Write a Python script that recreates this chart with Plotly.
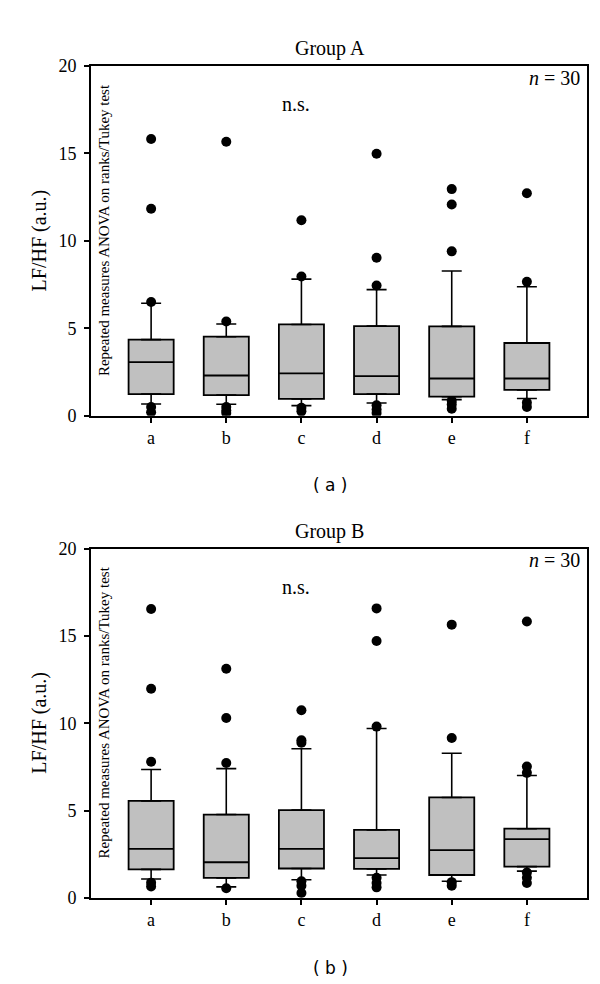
import plotly.graph_objects as go

# ---------------- data ----------------
categories = ["a", "b", "c", "d", "e", "f"]

# Group A
q1_A = [1.24, 1.18, 0.96, 1.24, 1.09, 1.48]
median_A = [3.07, 2.30, 2.42, 2.27, 2.13, 2.13]
q3_A = [4.35, 4.52, 5.22, 5.13, 5.11, 4.16]
whisker_low_A = [0.67, 0.66, 0.58, 0.73, 0.92, 0.99]
whisker_high_A = [6.43, 5.25, 7.81, 7.21, 8.28, 7.38]
outliers_A = [
    [15.83, 11.84, 6.50, 0.50, 0.20],
    [15.67, 5.39, 0.50, 0.30, 0.15],
    [11.18, 7.96, 0.45, 0.25],
    [14.98, 9.04, 7.45, 0.60, 0.35, 0.15],
    [12.96, 12.08, 9.40, 0.85, 0.65, 0.40],
    [12.72, 7.66, 0.75, 0.50],
]

# Group B
q1_B = [1.63, 1.14, 1.68, 1.66, 1.31, 1.79]
median_B = [2.80, 2.04, 2.80, 2.28, 2.73, 3.36]
q3_B = [5.55, 4.77, 5.03, 3.89, 5.75, 3.96]
whisker_low_B = [1.08, 0.63, 1.04, 1.31, 0.95, 1.53]
whisker_high_B = [7.35, 7.40, 8.54, 9.70, 8.28, 7.01]
outliers_B = [
    [16.55, 11.98, 7.80, 0.87, 0.65],
    [13.12, 10.30, 7.72, 0.55],
    [10.75, 9.03, 8.88, 0.95, 0.70, 0.28],
    [16.58, 14.71, 9.81, 1.15, 0.85, 0.60],
    [15.65, 9.16, 0.90, 0.70],
    [15.83, 7.52, 7.16, 1.45, 1.15, 0.85],
]

y_ticks = [0, 5, 10, 15, 20]
group_titles = ["Group A", "Group B"]
panel_labels = ["( a )", "( b )"]
n_label = "<i>n</i> = 30"
sig_label = "n.s."
test_label = "Repeated measures ANOVA on ranks/Tukey test"
y_title = "LF/HF (a.u.)"

# ---------------- figure ----------------
W, H = 600, 984
SERIF = "Liberation Serif"
BOX_FILL = "#c0c0c0"
BOX_LW = 1.8
WHISK_LW = 1.6
AX_LW = 1.6


def px_x(p):
    return p / W


def px_y(p):
    return (H - p) / H


fig = go.Figure()

groups = [
    (q1_A, median_A, q3_A, whisker_low_A, whisker_high_A, outliers_A, "x", "y"),
    (q1_B, median_B, q3_B, whisker_low_B, whisker_high_B, outliers_B, "x2", "y2"),
]

for q1, med, q3, wlo, whi, outs, xa, ya in groups:
    fig.add_trace(go.Box(
        x=categories, q1=q1, median=med, q3=q3,
        lowerfence=q1, upperfence=q3,
        width=0.6, fillcolor=BOX_FILL,
        line=dict(color="black", width=BOX_LW),
        boxpoints=False, xaxis=xa, yaxis=ya, hoverinfo="skip",
    ))
    # upper whiskers with caps
    fig.add_trace(go.Scatter(
        x=categories, y=q3, mode="markers",
        marker=dict(size=1, opacity=0),
        error_y=dict(type="data", symmetric=False,
                     array=[h - q for h, q in zip(whi, q3)],
                     arrayminus=[0] * len(q3),
                     color="black", thickness=WHISK_LW, width=10),
        xaxis=xa, yaxis=ya, hoverinfo="skip",
    ))
    # lower whiskers with caps
    fig.add_trace(go.Scatter(
        x=categories, y=q1, mode="markers",
        marker=dict(size=1, opacity=0),
        error_y=dict(type="data", symmetric=False,
                     array=[0] * len(q1),
                     arrayminus=[q - l for q, l in zip(q1, wlo)],
                     color="black", thickness=WHISK_LW, width=10),
        xaxis=xa, yaxis=ya, hoverinfo="skip",
    ))
    ox, oy = [], []
    for c, vals in zip(categories, outs):
        for v in vals:
            ox.append(c)
            oy.append(v)
    fig.add_trace(go.Scatter(
        x=ox, y=oy, mode="markers",
        marker=dict(size=10, color="black"),
        xaxis=xa, yaxis=ya, hoverinfo="skip",
    ))

x_dom = [px_x(83), px_x(579)]
top_dom = [px_y(406), px_y(49)]
bot_dom = [px_y(898.1), px_y(541.7)]

xaxis_common = dict(
    type="category", categoryorder="array", categoryarray=categories,
    range=[-0.8, 5.8], showline=True, linecolor="black", linewidth=AX_LW,
    mirror=True, ticks="outside", ticklen=5, tickwidth=AX_LW, tickcolor="black",
    showgrid=False, zeroline=False,
    tickfont=dict(family=SERIF, size=18, color="black"),
)
yaxis_common = dict(
    range=[0, 20], tickvals=y_ticks, showline=True, linecolor="black",
    linewidth=AX_LW, mirror=True, ticks="outside", ticklen=5, tickwidth=AX_LW,
    tickcolor="black", showgrid=False, zeroline=False,
    tickfont=dict(family=SERIF, size=18, color="black"),
    ticklabelstandoff=4,
)

fig.update_layout(
    width=W, height=H, margin=dict(l=0, r=0, t=0, b=0),
    paper_bgcolor="white", plot_bgcolor="white", showlegend=False,
    xaxis=dict(domain=x_dom, anchor="y", **xaxis_common),
    yaxis=dict(domain=top_dom, anchor="x", **yaxis_common),
    xaxis2=dict(domain=x_dom, anchor="y2", **xaxis_common),
    yaxis2=dict(domain=bot_dom, anchor="x2", **yaxis_common),
)

annotations = []
offsets = [0, 492.3]
for i, off in enumerate(offsets):
    annotations += [
        dict(text=group_titles[i], x=px_x(321.5), y=px_y(31.5 + off),
             font=dict(family=SERIF, size=20, color="black")),
        dict(text=panel_labels[i], x=px_x(322), y=px_y(477 + off),
             font=dict(family="DejaVu Sans", size=17, color="black")),
        dict(text=n_label, x=px_x(574), y=px_y(61 + off), xanchor="right",
             font=dict(family=SERIF, size=20, color="black")),
        dict(text=sig_label, x=px_x(288), y=px_y(88 + off),
             font=dict(family=SERIF, size=20, color="black")),
        dict(text=test_label, x=px_x(96), y=px_y(216.5 + off), textangle=-90,
             font=dict(family=SERIF, size=15, color="black")),
        dict(text=y_title, x=px_x(31.5), y=px_y(227.5 + off), textangle=-90,
             font=dict(family=SERIF, size=20, color="black")),
    ]
for a in annotations:
    a.update(xref="paper", yref="paper", showarrow=False,
             xanchor=a.get("xanchor", "center"), yanchor="middle")
fig.update_layout(annotations=annotations)

fig.write_html("out.html")
